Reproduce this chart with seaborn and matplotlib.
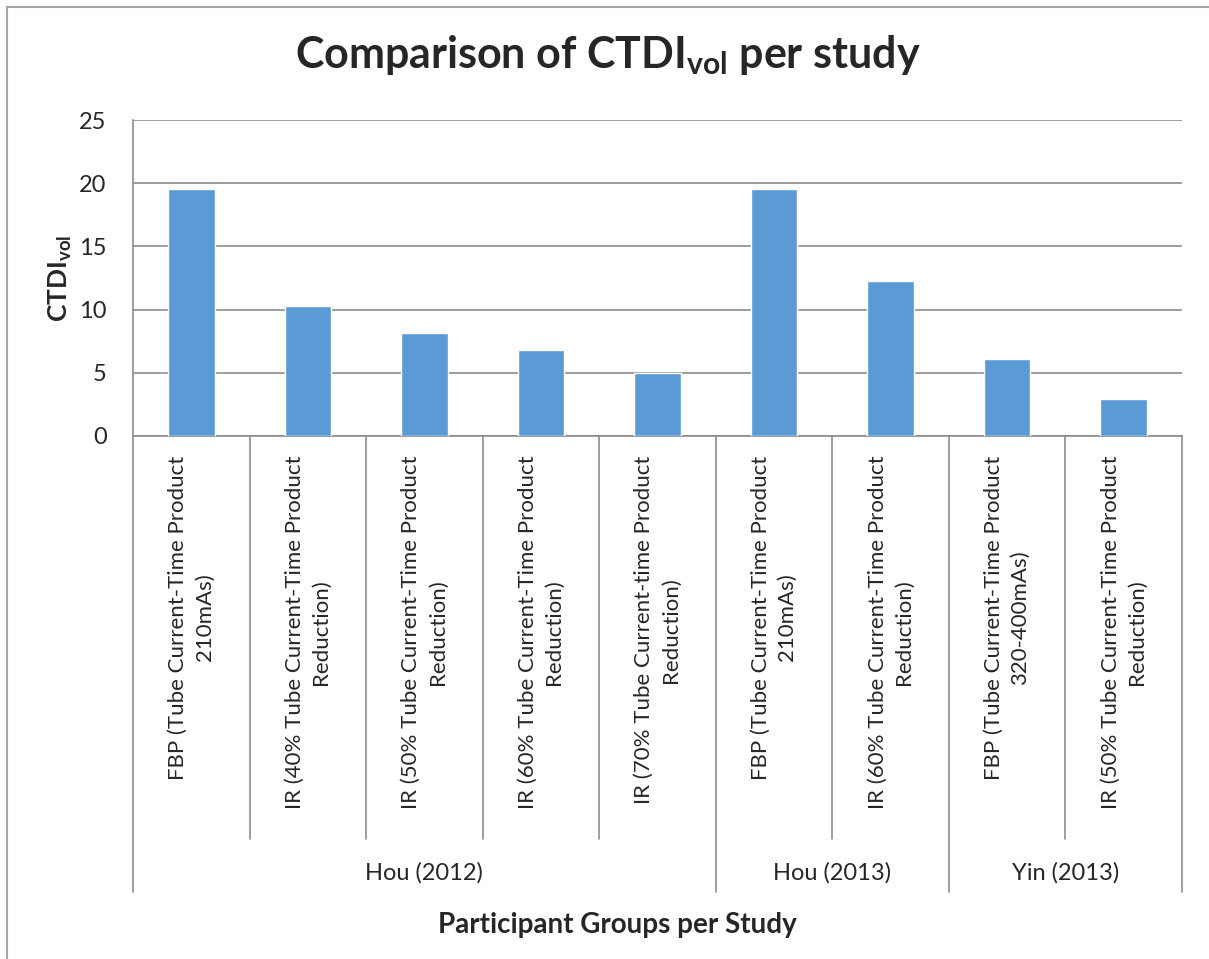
import matplotlib
matplotlib.use("Agg")
import matplotlib.pyplot as plt
import matplotlib.transforms as mtransforms
from matplotlib.patches import Rectangle
import pandas as pd
import seaborn as sns

# data
group_labels = [
    "FBP (Tube Current-Time Product\n210mAs)",
    "IR (40% Tube Current-Time Product\nReduction)",
    "IR (50% Tube Current-Time Product\nReduction)",
    "IR (60% Tube Current-Time Product\nReduction)",
    "IR (70% Tube Current-time Product\nReduction)",
    "FBP (Tube Current-Time Product\n210mAs)",
    "IR (60% Tube Current-Time Product\nReduction)",
    "FBP (Tube Current-Time Product\n320-400mAs)",
    "IR (50% Tube Current-Time Product\nReduction)",
]
studies = ["Hou (2012)"] * 5 + ["Hou (2013)"] * 2 + ["Yin (2013)"] * 2
ctdi_vol = [19.55, 10.26, 8.18, 6.79, 4.95, 19.53, 12.29, 6.08, 2.89]
y_ticks = [0, 5, 10, 15, 20, 25]

df = pd.DataFrame({"slot": list(range(len(ctdi_vol))), "study": studies, "ctdi": ctdi_vol})

sns.set_style("white")
plt.rcParams['font.family'] = ['Lato', 'DejaVu Sans']
plt.rcParams['mathtext.fontset'] = 'custom'
plt.rcParams['mathtext.rm'] = 'Lato'
plt.rcParams['mathtext.bf'] = 'Lato:bold'

W, H = 1209, 959
grey = '#8C8C8C'
fig = plt.figure(figsize=(W / 100, H / 100), dpi=100)
ax = fig.add_axes([133 / W, 1 - 436 / H, 1049 / W, 316 / H])

sns.barplot(data=df, x="slot", y="ctdi", color='#5B9BD5', width=0.40,
            saturation=1, ax=ax, zorder=3)

ax.set_xlim(-0.5, 8.5)
ax.set_ylim(0, 25)
ax.set_yticks(y_ticks)
ax.grid(axis='y', color=grey, linewidth=1.2, zorder=0)
ax.set_axisbelow(True)
for s in ['top', 'right']:
    ax.spines[s].set_visible(False)
for s in ['left', 'bottom']:
    ax.spines[s].set_color(grey)
    ax.spines[s].set_linewidth(1.2)

ax.tick_params(axis='y', length=6, width=1.2, color=grey, pad=13, labelsize=17)
ax.set_xticks(range(len(group_labels)))
ax.set_xticklabels(group_labels, rotation=90, fontsize=16, ha='center', va='top',
                   multialignment='center', linespacing=1.4)
ax.tick_params(axis='x', length=0, pad=14)

# multi-level category separators
trans = mtransforms.blended_transform_factory(ax.transData, fig.transFigure)
y_axis = 1 - 436 / H
y_short = 1 - 839 / H
y_long = 1 - 892 / H
group_edges = [-0.5, 4.5, 6.5, 8.5]
for i in range(len(group_labels) + 1):
    xpos = i - 0.5
    bottom = y_long if xpos in group_edges else y_short
    ax.plot([xpos, xpos], [y_axis, bottom], color=grey, lw=1.2,
            transform=trans, clip_on=False)

for st in ["Hou (2012)", "Hou (2013)", "Yin (2013)"]:
    xs = df.loc[df["study"] == st, "slot"]
    ax.text(xs.mean(), 1 - 873 / H, st, transform=trans, ha='center',
            va='center', fontsize=17)

ax.set_xlabel("")
ax.set_ylabel(r"CTDI$_{\mathbf{vol}}$", fontsize=19, fontweight='bold')
ax.yaxis.set_label_coords(-0.056, 0.5)
fig.text(617 / W, 1 - 925 / H, "Participant Groups per Study", ha='center',
         va='center', fontsize=20, fontweight='bold')

fig.text(0.503, 1 - 68 / H, r"Comparison of CTDI$_{\mathbf{vol}}$ per study",
         ha='center', va='baseline', fontsize=31, fontweight='bold')

# chart area border
fig.patches.append(Rectangle((7 / W, -0.05), 1.2, 1 - 7 / H + 0.05,
                             transform=fig.transFigure, fill=False,
                             edgecolor='#A6A6A6', lw=1.5))

fig.savefig("out.png", dpi=100)
